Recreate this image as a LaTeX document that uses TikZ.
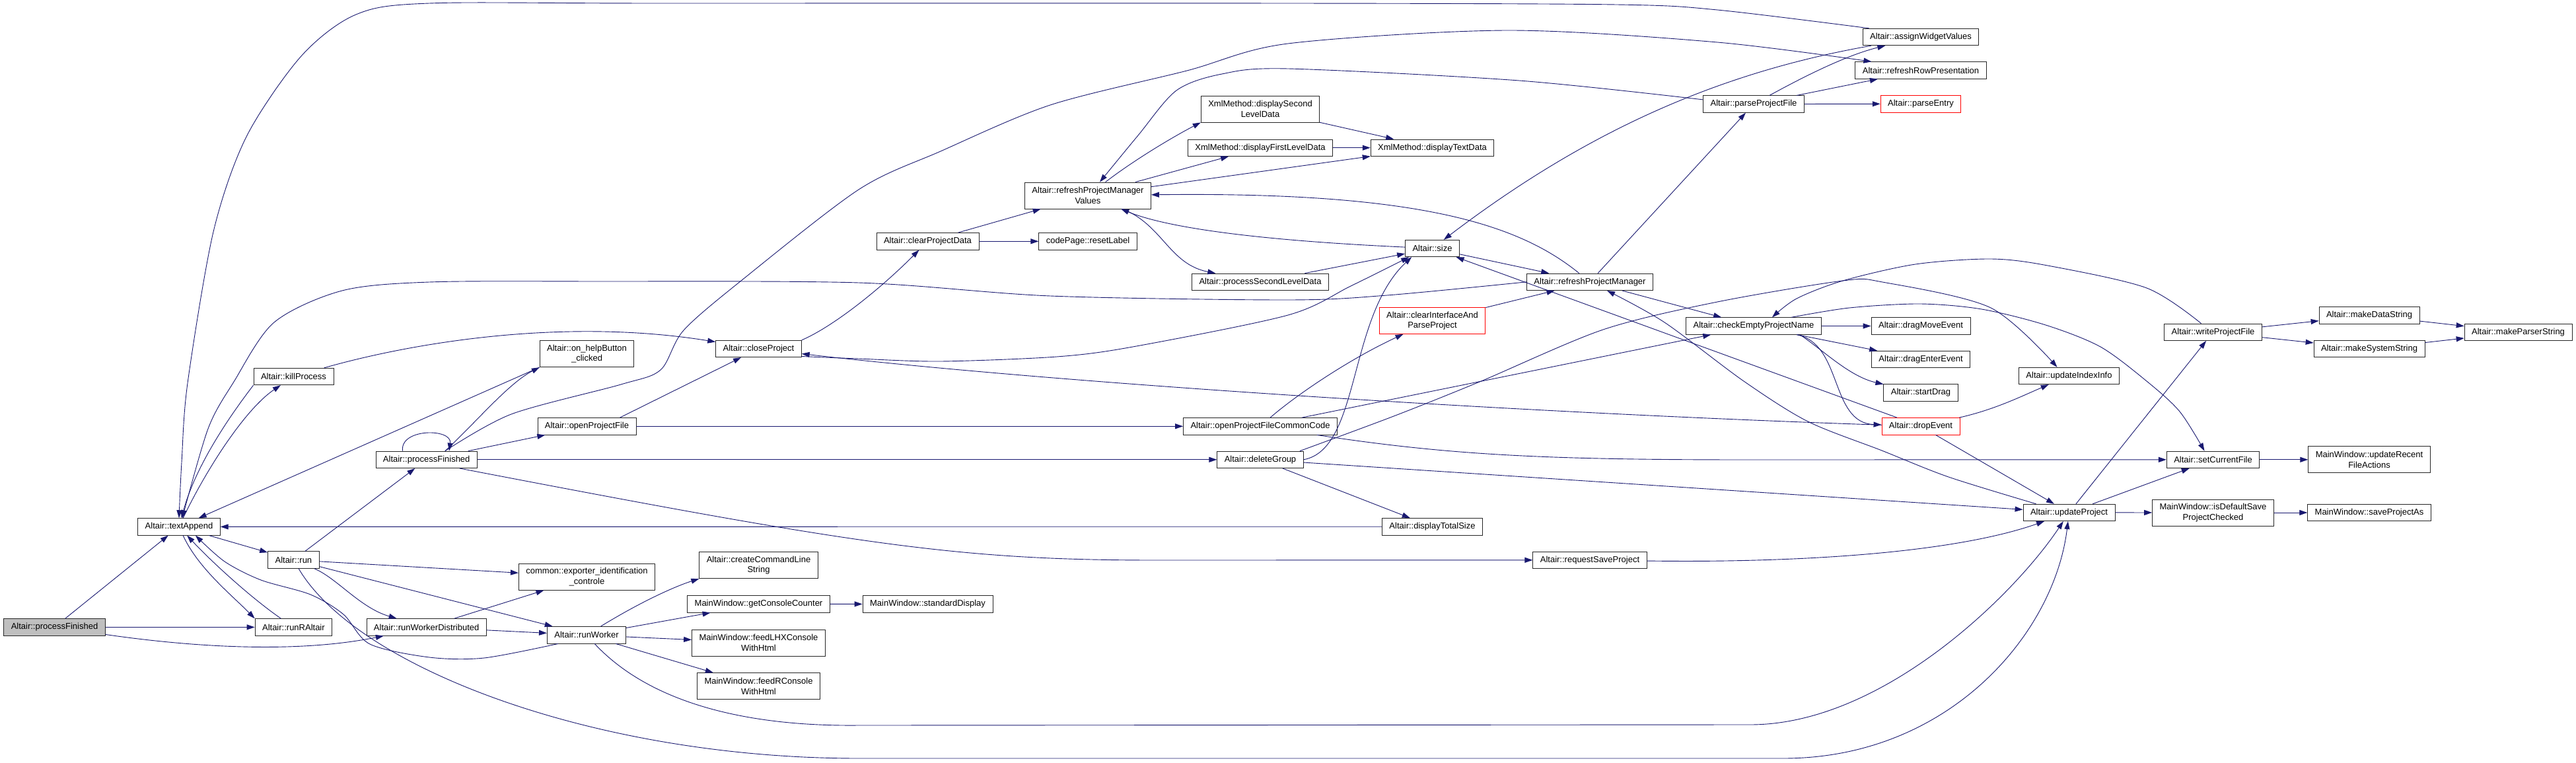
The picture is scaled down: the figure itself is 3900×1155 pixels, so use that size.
\documentclass[tikz,border=0pt]{standalone}
\usepackage{fontspec}
\setmainfont{Liberation Sans}
\usetikzlibrary{arrows.meta}
\definecolor{dxEdge}{HTML}{191970}
\definecolor{dxRoot}{HTML}{BFBFBF}
\definecolor{dxRed}{HTML}{FF0000}

\begin{document}
\begin{tikzpicture}[x=1pt,y=-1pt,
  fn/.style={draw=black!85,line width=0.8pt,fill=white,font=\fontsize{13}{15.5}\selectfont,inner xsep=11pt,inner ysep=0pt,minimum height=25.5pt,align=center},
  fntwo/.style={fn,minimum height=40pt},
  fnroot/.style={fn,fill=dxRoot},
  fnred/.style={draw=dxRed},
  cedge/.style={draw=dxEdge,line width=0.9pt,-{Triangle[length=12pt,width=8pt]}}]
\useasboundingbox (0,0) rectangle (3900,1155);

\node[fnroot] (pfin) at (82.5,949.4) {Altair::processFinished};
\node[fn] (tapp) at (271,797.4) {Altair::textAppend};
\node[fn] (kill) at (444.5,570) {Altair::killProcess};
\node[fn] (run) at (444.4,847.6) {Altair::run};
\node[fn] (runR) at (444.4,949.4) {Altair::runRAltair};
\node[fn] (pfin2) at (645.7,695.8) {Altair::processFinished};
\node[fn] (rwd) at (645.7,949.4) {Altair::runWorkerDistributed};
\node[fntwo] (help) at (888.5,535.7) {Altair::on\_helpButton\\\_clicked};
\node[fn] (opf) at (888.5,645.3) {Altair::openProjectFile};
\node[fntwo] (expid) at (888.5,873.2) {common::exporter\_identification\\\_controle};
\node[fn] (rw) at (888,961.3) {Altair::runWorker};
\node[fn] (close) at (1148.5,528) {Altair::closeProject};
\node[fntwo] (cmdl) at (1148.5,855.8) {Altair::createCommandLine\\String};
\node[fn] (gcc) at (1148.5,914.3) {MainWindow::getConsoleCounter};
\node[fntwo] (flhx) at (1148.5,973) {MainWindow::feedLHXConsole\\WithHtml};
\node[fntwo] (fr) at (1148.5,1038.6) {MainWindow::feedRConsole\\WithHtml};
\node[fn] (stdd) at (1404.5,914.5) {MainWindow::standardDisplay};
\node[fn] (clrpd) at (1404.5,365.3) {Altair::clearProjectData};
\node[fntwo] (rpmv) at (1647,296) {Altair::refreshProjectManager\\Values};
\node[fn] (reset) at (1647,365.3) {codePage::resetLabel};
\node[fntwo] (dsec) at (1908,165) {XmlMethod::displaySecond\\LevelData};
\node[fn] (dfirst) at (1908,223.7) {XmlMethod::displayFirstLevelData};
\node[fn] (psec) at (1908,426.8) {Altair::processSecondLevelData};
\node[fn] (opfcc) at (1908,645.3) {Altair::openProjectFileCommonCode};
\node[fn] (delg) at (1908,695.8) {Altair::deleteGroup};
\node[fn] (dtext) at (2168.5,223.7) {XmlMethod::displayTextData};
\node[fn] (size) at (2168.5,376) {Altair::size};
\node[fntwo,fnred] (clrip) at (2168.5,485.4) {Altair::clearInterfaceAnd\\ParseProject};
\node[fn] (dtot) at (2168.5,797.2) {Altair::displayTotalSize};
\node[fn] (rpm) at (2407,426.8) {Altair::refreshProjectManager};
\node[fn] (rsave) at (2407,847.8) {Altair::requestSaveProject};
\node[fn] (ppf) at (2655,157.6) {Altair::parseProjectFile};
\node[fn] (chk) at (2655,493.5) {Altair::checkEmptyProjectName};
\node[fn] (awv) at (2908,56) {Altair::assignWidgetValues};
\node[fn] (rrow) at (2908,106.5) {Altair::refreshRowPresentation};
\node[fn,fnred] (pent) at (2908,157.2) {Altair::parseEntry};
\node[fn] (dmove) at (2908,493.5) {Altair::dragMoveEvent};
\node[fn] (denter) at (2908,544) {Altair::dragEnterEvent};
\node[fn] (sdrag) at (2908,594.4) {Altair::startDrag};
\node[fn,fnred] (drop) at (2908,645.3) {Altair::dropEvent};
\node[fn] (uidx) at (3132.5,569) {Altair::updateIndexInfo};
\node[fn] (upd) at (3132.5,775.9) {Altair::updateProject};
\node[fn] (wpf) at (3350.5,502.8) {Altair::writeProjectFile};
\node[fn] (scf) at (3350.5,695.8) {Altair::setCurrentFile};
\node[fntwo] (isdef) at (3350.5,776) {MainWindow::isDefaultSave\\ProjectChecked};
\node[fn] (mds) at (3587,477.5) {Altair::makeDataString};
\node[fn] (mss) at (3587,528) {Altair::makeSystemString};
\node[fntwo] (mru) at (3587,695.8) {MainWindow::updateRecent\\FileActions};
\node[fn] (spa) at (3587,776) {MainWindow::saveProjectAs};
\node[fn] (mps) at (3812.5,502.8) {Altair::makeParserString};

\draw[cedge] (pfin) -- (tapp);
\draw[cedge] (pfin) -- (runR);
\draw[cedge] (pfin) .. controls (330,985) and (470,985) .. (rwd);
\draw[cedge] (tapp) .. controls (310,715) and (370,620) .. (kill);
\draw[cedge] (tapp) -- (run);
\draw[cedge] (tapp) .. controls (300,860) and (350,900) .. (runR.north west);
\draw[cedge] (kill.south west) .. controls (340,640) and (295,710) .. (tapp);
\draw[cedge] (kill) .. controls (620,520) and (850,480) .. (close);
\draw[cedge] (runR) .. controls (380,905) and (320,850) .. (tapp);
\draw[cedge] (run) -- (pfin2);
\draw[cedge] (run) -- (expid);
\draw[cedge] (run) -- (rw);
\draw[cedge] (run) .. controls (510,875) and (545,920) .. (rwd);
\draw[cedge] (run) .. controls (540,1010) and (900,1148) .. (1300,1148) -- (2700,1148) .. controls (2950,1148) and (3110,960) .. (upd);
\draw[cedge] (pfin2.160) .. controls (605,648) and (685,648) .. (pfin2.21);
\draw[cedge] (pfin2.25) .. controls (720,640) and (770,580) .. (help.south west);
\draw[cedge] plot[smooth] coordinates {(pfin2.25) (774,627) (940,582) (1000,560) (1035,500) (1122,425) (1300,287) (1424,229) (1590,159) (1797,107) (1950,66) (2282,46) (2600,64) ([xshift=25pt]rrow.north west)};
\draw[cedge] (pfin2) -- (opf);
\draw[cedge] (pfin2) -- (delg);
\draw[cedge] ([xshift=50pt]pfin2.south) .. controls (1300,825) and (1450,848) .. (1750,848) -- (rsave);
\draw[cedge] (rwd) -- (expid);
\draw[cedge] (rwd) -- (rw);
\draw[cedge] (help.south west) -- (tapp);
\draw[cedge] ([xshift=50pt]opf.north) -- (close);
\draw[cedge] (opf) -- (opfcc);
\draw[cedge] plot[smooth] coordinates {([xshift=-43pt]rw.south) (733,996) (650,995) (560,975) (520,930) (470,900) (395,878) (340,850) ([xshift=25pt]tapp.south)};
\draw[cedge] (rw) .. controls (980,905) and (1030,885) .. (cmdl.south west);
\draw[cedge] (rw) -- (gcc);
\draw[cedge] (rw) -- (flhx);
\draw[cedge] (rw) -- (fr);
\draw[cedge] (rw) .. controls (980,1060) and (1120,1100) .. (1300,1098) -- (2650,1097) .. controls (2850,1097) and (3050,900) .. (upd);
\draw[cedge] (gcc) -- (stdd);
\draw[cedge] (close.north east) .. controls (1260,495) and (1330,440) .. (clrpd);
\draw[cedge] plot[smooth] coordinates {(close.-10) (1300,543) (1424,547) (1600,540) (1715,525) (1950,477) (2045,433) ([xshift=6pt]size.south west)};
\draw[cedge] (clrpd) -- (rpmv);
\draw[cedge] (clrpd) -- (reset);
\draw[cedge] (rpmv) .. controls (1720,240) and (1780,205) .. (dsec.south west);
\draw[cedge] ([xshift=72pt]rpmv.north) -- (dfirst);
\draw[cedge] (rpmv) -- (dtext);
\draw[cedge] (rpmv) .. controls (1760,340) and (1770,400) .. (psec);
\draw[cedge] (dsec) -- (dtext);
\draw[cedge] (dfirst) -- (dtext);
\draw[cedge] (psec) -- (size);
\draw[cedge] (opfcc) .. controls (1960,600) and (2040,545) .. (clrip);
\draw[cedge] ([xshift=63pt]opfcc.north) -- (chk);
\draw[cedge] (opfcc) .. controls (2200,690) and (2350,696) .. (2650,696) -- (scf);
\draw[cedge] (delg.east) .. controls (2060,680) and (2040,480) .. ([xshift=10pt]size.south west);
\draw[cedge] (delg) -- (dtot);
\draw[cedge] plot[smooth] coordinates {([xshift=60pt]delg.north) (2110,630) (2240,578) (2427,499) (2600,457) (2790,425) (2850,427) (3014,466) ([xshift=-18pt]uidx.north)};
\draw[cedge] (delg) -- (upd);
\draw[cedge] (size) .. controls (1950,366) and (1780,350) .. (rpmv);
\draw[cedge] (size) -- (rpm);
\draw[cedge] (clrip) -- (rpm);
\draw[cedge] (dtot) -- (tapp);
\draw[cedge] plot[smooth] coordinates {(rpm.west) (2100,447) (1950,454) (1590,448) (1300,428) (900,426) (650,427) (518,440) (415,488) (354,578) (315,649) ([xshift=5pt]tapp.north)};
\draw[cedge] (rpm) .. controls (2300,340) and (2150,290) .. (rpmv);
\draw[cedge] (rpm) -- (ppf);
\draw[cedge] (rpm) -- (chk);
\draw[cedge] (rsave) .. controls (2700,852) and (2950,840) .. (upd);
\draw[cedge] plot[smooth] coordinates {(ppf.175) (2300,122) (1950,104) (1850,112) (1781,137) (1723,205) ([xshift=18pt]rpmv.north)};
\draw[cedge] (ppf) .. controls (2760,100) and (2810,80) .. (awv);
\draw[cedge] (ppf) -- (rrow);
\draw[cedge] (ppf) -- (pent);
\draw[cedge] (chk) -- (dmove);
\draw[cedge] (chk) -- (denter);
\draw[cedge] ([xshift=70pt]chk.south) .. controls (2760,530) and (2800,570) .. (sdrag);
\draw[cedge] ([xshift=65pt]chk.south) .. controls (2790,520) and (2770,640) .. (drop);
\draw[cedge] plot[smooth] coordinates {([xshift=57pt]chk.north) (2800,466) (2907,460) (3000,468) (3097,492) (3180,525) (3250,577) (3300,623) ([xshift=-13pt]scf.north)};
\draw[cedge] plot[smooth] coordinates {([xshift=-18pt]wpf.north) (3250,436) (3100,402) (3014,392) (2900,400) (2790,425) (2720,452) ([xshift=28pt]chk.north)};
\draw[cedge] plot[smooth] coordinates {([xshift=10pt]awv.north west) (2600,15) (2447,7) (1950,5) (1000,5) (650,5) (539,22) (456,85) (373,207) (323,351) (284,580) (275,700) (tapp.north)};
\draw[cedge] (awv) .. controls (2600,110) and (2400,200) .. (size);
\draw[cedge] (drop) .. controls (2300,625) and (1600,580) .. (close);
\draw[cedge] (drop) -- (size);
\draw[cedge] (drop) .. controls (3020,620) and (3060,600) .. (uidx);
\draw[cedge] (drop) -- (upd);
\draw[cedge] plot[smooth] coordinates {([xshift=-50pt]upd.north) (2950,722) (2849,682) (2737,638) (2640,577) (2520,488) ([xshift=26pt]rpm.south)};
\draw[cedge] (upd) -- (wpf);
\draw[cedge] (upd) -- (scf);
\draw[cedge] (upd) -- (isdef);
\draw[cedge] (wpf) -- (mds);
\draw[cedge] (wpf) -- (mss);
\draw[cedge] (mds) -- (mps);
\draw[cedge] (mss) -- (mps);
\draw[cedge] (scf) -- (mru);
\draw[cedge] (isdef) -- (spa);
\end{tikzpicture}
\end{document}
